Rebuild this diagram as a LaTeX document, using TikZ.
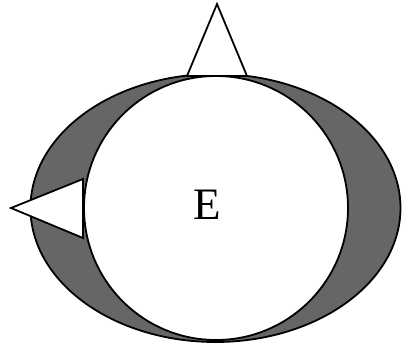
\documentclass[tikz,border=0pt]{standalone}
\usepackage{fontspec}
\setmainfont{Liberation Serif}
\begin{document}
\begin{tikzpicture}[x=1pt,y=1pt,
  outline/.style={draw=black,line width=1.8pt,line join=miter},
  shade/.style={outline,fill=black!60},
  blank/.style={outline,fill=white}]
\useasboundingbox (0,0) rectangle (402,346);
\draw[shade] (215.5,138) ellipse [x radius=185, y radius=134];
\draw[blank] (216,138) circle [radius=132];
\draw[blank] (217,342) -- (187,270) -- (247,270) -- cycle;
\draw[blank] (11,138) -- (83,167) -- (83,108) -- cycle;
\node[font=\fontsize{45}{48}\selectfont,inner sep=0pt] (label) at (207.5,141) {E};
\end{tikzpicture}
\end{document}
